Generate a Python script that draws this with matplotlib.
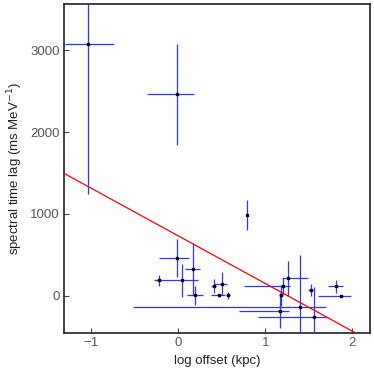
import matplotlib
matplotlib.use("Agg")
import matplotlib.pyplot as plt
import numpy as np

plt.rcParams['font.family'] = ['Liberation Sans', 'DejaVu Sans']

# log offset (kpc) and spectral time lag (ms MeV^-1)
x = [-1.03, -0.01, 0.79, -0.01, 0.17, -0.22, 0.05, 0.19, 0.41, 0.50, 0.47, 0.57,
     1.18, 1.17, 1.20, 1.26, 1.40, 1.52, 1.56, 1.81, 1.87]
y = [3077, 2460, 985, 460, 329, 191, 191, 8, 118, 150, 8, 8,
     8, -179, 118, 216, -138, 73, -256, 118, 0]
x_lo = [0.27, 0.35, 0.0, 0.21, 0.09, 0.04, 0.33, 0.09, 0.03, 0.09, 0.09, 0.02,
        0.02, 0.47, 0.45, 0.07, 1.92, 0.03, 0.64, 0.09, 0.26]
x_hi = [0.29, 0.19, 0.0, 0.14, 0.08, 0.04, 0.18, 0.09, 0.03, 0.06, 0.07, 0.02,
        0.02, 0.10, 0.08, 0.23, 0.30, 0.03, 0.16, 0.08, 0.11]
y_err = [1830, 616, 180, 230, 320, 70, 200, 115, 85, 140, 20, 45,
         130, 210, 100, 215, 640, 70, 360, 80, 15]

# fitted line
line_x = [-1.31, 2.2]
line_slope = -582
line_icpt = 734

fig = plt.figure(figsize=(3.74, 3.74), dpi=100)
ax = fig.add_axes([0.171, 0.110, 0.818, 0.879])

ax.errorbar(x, y, xerr=[x_lo, x_hi], yerr=y_err, fmt='s', ms=1.8, mfc='black',
            mec='black', ecolor=(0.2, 0.2, 1.0), elinewidth=0.9, capsize=0, zorder=3)

lx = np.array(line_x)
ax.plot(lx, line_icpt + line_slope * lx, color='red', lw=0.9, zorder=4)

ax.set_xlim(-1.31, 2.2)
ax.set_ylim(-450, 3560)
ax.set_xticks([-1, 0, 1, 2])
ax.set_yticks([0, 1000, 2000, 3000])
ax.tick_params(direction='in', length=3.5, width=0.8, labelsize=9.5,
               labelcolor='#555555', color='#444444', pad=3)
for s in ax.spines.values():
    s.set_linewidth(1.2)
    s.set_color('#222222')
ax.set_xlabel('log offset (kpc)', fontsize=9.5, color='#222222')
ax.set_ylabel('spectral time lag (ms MeV$^{-1}$)', fontsize=9.5, color='#222222')

fig.savefig('out.png', dpi=100)
